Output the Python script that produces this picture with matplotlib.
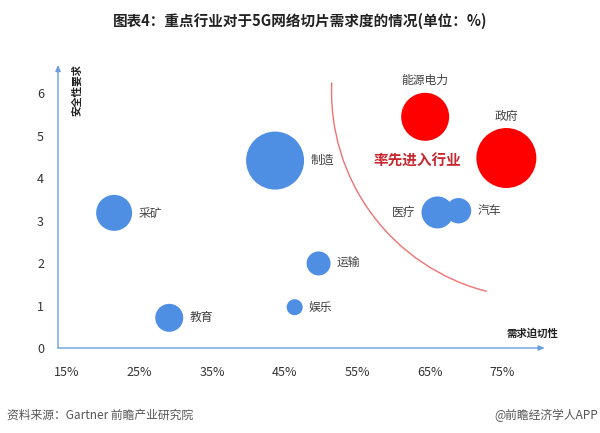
import matplotlib
matplotlib.use("Agg")
import numpy as np
import matplotlib.pyplot as plt
from matplotlib.patches import Arc

plt.rcParams['font.family'] = ['Noto Sans CJK SC', 'DejaVu Sans']

#%% DATI
industries = ["采矿", "教育", "制造", "运输", "娱乐", "能源电力", "政府", "医疗", "汽车"]
urgency = [21.5, 29.1, 43.7, 49.7, 46.4, 64.4, 75.6, 66.1, 69.0]      # 需求迫切性 (%)
security = [3.18, 0.71, 4.41, 1.99, 0.96, 5.44, 4.47, 3.19, 3.23]     # 安全性要求
bubble = [18, 14, 29, 12, 8, 24, 30, 16, 12.7]                        # dimensione relativa
leading = ["能源电力", "政府"]

x_ticks = [15, 25, 35, 45, 55, 65, 75]
y_ticks = [0, 1, 2, 3, 4, 5, 6]

# dove mettere le etichette
label_side = {"能源电力": "top", "政府": "top", "医疗": "left"}

#%% GRAFICO
fig = plt.figure(figsize=(6, 4.33), dpi=100)
ax = fig.add_axes([0.0967, 0.1963, 0.8113, 0.6537])
xlim = (13.76, 80.9)
ylim = (0, 6.66)
ax.set_xlim(*xlim)
ax.set_ylim(*ylim)

blue = '#4f8fe3'
red = '#ff0000'
axis_col = '#6a9ee0'

for name, xv, yv, r in zip(industries, urgency, security, bubble):
    col = red if name in leading else blue
    ax.scatter(xv, yv, s=(2 * r * 0.72) ** 2, color=col, edgecolors='none', zorder=3)
    side = label_side.get(name, "right")
    if side == "right":
        off, ha, va = (r + 6, 0), 'left', 'center'
    elif side == "left":
        off, ha, va = (-(r + 6), 0), 'right', 'center'
    else:
        off, ha, va = (0, r + 12), 'center', 'center'
    ax.annotate(name, (xv, yv), xytext=off, textcoords='offset pixels',
                ha=ha, va=va, fontsize=8.5, color='#404040', zorder=4)

# arco "率先进入行业" (cerchio in pixel -> ellisse nei dati)
px_x = 600 * 0.8113 / (xlim[1] - xlim[0])
px_y = 433 * 0.6537 / (ylim[1] - ylim[0])
r_arc = 206


def data_angle(deg):
    t = np.deg2rad(deg)
    return np.rad2deg(np.arctan2(np.sin(t) / px_y, np.cos(t) / px_x))


arc = Arc((79.9, 6.03), 2 * r_arc / px_x, 2 * r_arc / px_y,
          theta1=data_angle(177.4), theta2=data_angle(255.7) % 360,
          color='#f07272', lw=1.0, zorder=2)
ax.add_patch(arc)
ax.text(63.3, 4.41, "率先进入行业", ha='center', va='center', fontsize=10.5,
        fontweight='bold', color='#c8282f', zorder=4)

# assi con freccia
for s in ax.spines.values():
    s.set_visible(False)
ax.annotate('', xy=(1.0, 0), xytext=(0, 0), xycoords='axes fraction',
            arrowprops=dict(arrowstyle='-|>,head_length=0.35,head_width=0.15',
                            color=axis_col, lw=1.0, shrinkA=0, shrinkB=0))
ax.annotate('', xy=(0, 1.0), xytext=(0, 0), xycoords='axes fraction',
            arrowprops=dict(arrowstyle='-|>,head_length=0.35,head_width=0.15',
                            color=axis_col, lw=1.0, shrinkA=0, shrinkB=0))

ax.set_xticks(x_ticks)
ax.set_xticklabels([f"{v}%" for v in x_ticks])
ax.set_yticks(y_ticks)
ax.tick_params(axis='both', length=0, labelsize=9, colors='#333333')
ax.tick_params(axis='x', pad=13)
ax.tick_params(axis='y', pad=10)

ax.text(0.975, 0.05, "需求迫切性", transform=ax.transAxes, ha='center', va='center',
        fontsize=7.5, fontweight='bold', color='#222222')
ax.text(0.04, 0.91, "安全性要求", transform=ax.transAxes, ha='center', va='center',
        rotation=90, fontsize=7.5, fontweight='bold', color='#222222')

# titolo e fonte
fig.text(0.5, 1 - 21 / 433, "图表4：重点行业对于5G网络切片需求度的情况(单位：%)",
         ha='center', va='center', fontsize=10.5, fontweight='bold', color='#222222')
fig.text(0.012, 1 - 415 / 433, "资料来源：Gartner 前瞻产业研究院", ha='left', va='center',
         fontsize=8.5, color='#555555')
fig.text(0.997, 1 - 415 / 433, "@前瞻经济学人APP", ha='right', va='center',
         fontsize=8.5, color='#555555')

fig.savefig("out.png", dpi=100)
